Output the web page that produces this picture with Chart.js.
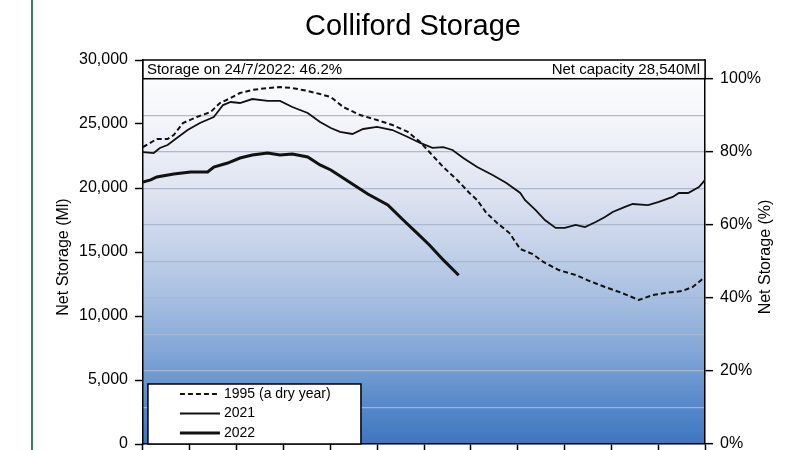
<!DOCTYPE html>
<html>
<head>
<meta charset="utf-8">
<title>Colliford Storage</title>
<script src="https://cdn.jsdelivr.net/npm/chart.js@4.4.1/dist/chart.umd.min.js"></script>
<style>
  html, body { margin: 0; padding: 0; background: #fff; overflow: hidden; }
  #wrap { position: relative; width: 800px; height: 450px; overflow: hidden; }
  #edge { position: absolute; left: 31px; top: 0; width: 2px; height: 450px; background: #3b7a5c; }
</style>
</head>
<body>
<div id="wrap">
  <canvas id="myChart" width="800" height="470"></canvas>
  <div id="edge"></div>
</div>
<script>
// Net capacity of the reservoir (Ml)
const capacity = 28540;

// 1995 (a dry year) : day of year / net storage (Ml)
const days1995 = [0, 9, 16, 20, 26, 35, 44, 50, 57, 63, 71, 81, 89, 97, 107, 115, 122, 130, 141, 152,
  162, 172, 180, 186, 195, 204, 212, 217, 223, 230, 238, 245, 253, 260, 270, 281, 290, 300, 311, 322,
  331, 339, 350, 357, 365];
const ml1995 = [23200, 23830, 23830, 24140, 25080, 25550, 25940, 26640, 27030, 27420, 27660, 27810, 27890, 27810, 27580, 27340, 27110, 26330, 25700, 25310,
  24920, 24380, 23590, 22810, 21640, 20630, 19610, 19060, 18050, 17270, 16480, 15230, 14840, 14220, 13590, 13200, 12730, 12270, 11800, 11250,
  11640, 11800, 11950, 12270, 13050];

// 2021
const days2021 = [0, 7, 11, 16, 22, 29, 37, 46, 52, 57, 63, 71, 81, 89, 97, 107, 115, 122, 128, 136,
  143, 152, 162, 172, 180, 188, 195, 201, 208, 217, 227, 236, 245, 248, 255, 261, 268, 274, 281, 287,
  294, 300, 305, 313, 318, 328, 335, 344, 348, 354, 361, 365];
const ml2021 = [22810, 22730, 23130, 23360, 23910, 24530, 25080, 25550, 26480, 26720, 26640, 26950, 26800, 26800, 26330, 25860, 25160, 24690, 24380, 24220,
  24610, 24770, 24530, 23980, 23520, 23130, 23200, 22970, 22340, 21640, 21020, 20390, 19610, 19060, 18280, 17500, 16880, 16880, 17110, 16950,
  17340, 17730, 18130, 18520, 18750, 18670, 18910, 19300, 19610, 19610, 20080, 20630];

// 2022 (up to 24/7)
const days2022 = [0, 5, 9, 20, 31, 42, 46, 55, 63, 71, 81, 89, 97, 107, 115, 122, 130, 139, 146, 159,
  169, 178, 186, 195, 205];
const ml2022 = [20470, 20630, 20860, 21090, 21250, 21250, 21640, 21950, 22340, 22580, 22730, 22580, 22660, 22420, 21800, 21410, 20780, 20080, 19530, 18670,
  17500, 16480, 15550, 14380, 13185];

const seriesLabels = ["1995 (a dry year)", "2021", "2022"];
const headerLeft = "Storage on 24/7/2022: 46.2%";
const headerRight = "Net capacity 28,540Ml";

const FONT = "'Liberation Sans', Arial, sans-serif";
Chart.defaults.font.family = FONT;
Chart.defaults.color = "#000";

function toPoints(days, vals) {
  return days.map((d, i) => ({ x: d, y: vals[i] }));
}

// background gradient stops (top -> bottom of plot)
const bgStops = [
  [0, "#ffffff"], [0.16, "#f3f5fa"], [0.34, "#dfe4f1"], [0.5, "#c2d0e8"],
  [0.63, "#a4bde0"], [0.76, "#82a6d6"], [0.88, "#5c8ccb"], [1, "#3d76c0"]
];

const decorPlugin = {
  id: "decor",
  beforeDraw(chart) {
    const { ctx, chartArea: a } = chart;
    ctx.save();
    ctx.fillStyle = "#fff";
    ctx.fillRect(0, 0, chart.width, chart.height);
    const g = ctx.createLinearGradient(0, a.top, 0, a.bottom);
    bgStops.forEach(s => g.addColorStop(s[0], s[1]));
    ctx.fillStyle = g;
    ctx.fillRect(a.left, a.top, a.right - a.left, a.bottom - a.top);
    ctx.restore();
  },
  afterDraw(chart) {
    const { ctx, chartArea: a } = chart;
    const y100 = chart.scales.y1.getPixelForValue(100);
    ctx.save();

    // title
    ctx.fillStyle = "#000";
    ctx.font = "29px " + FONT;
    ctx.textAlign = "center";
    ctx.textBaseline = "middle";
    ctx.fillText("Colliford Storage", 413, 27);

    // axis titles
    ctx.font = "16px " + FONT;
    ctx.save();
    ctx.translate(64, 257);
    ctx.rotate(-Math.PI / 2);
    ctx.fillText("Net Storage (Ml)", 0, 0);
    ctx.restore();
    ctx.save();
    ctx.translate(766, 257);
    ctx.rotate(-Math.PI / 2);
    ctx.fillText("Net Storage (%)", 0, 0);
    ctx.restore();

    // header box
    ctx.fillStyle = "#fff";
    ctx.fillRect(a.left, a.top, a.right - a.left, y100 - a.top);
    ctx.strokeStyle = "#000";
    ctx.lineWidth = 1.5;
    ctx.strokeRect(a.left, a.top, a.right - a.left, y100 - a.top);
    ctx.fillStyle = "#000";
    ctx.font = "15px " + FONT;
    ctx.textBaseline = "middle";
    ctx.textAlign = "left";
    ctx.fillText(headerLeft, a.left + 4, (a.top + y100) / 2 + 1);
    ctx.textAlign = "right";
    ctx.fillText(headerRight, a.right - 5, (a.top + y100) / 2 + 1);

    // legend box
    const lx = a.left + 5, ly = 384, lw = 213, lh = a.bottom - ly;
    ctx.fillStyle = "#fff";
    ctx.fillRect(lx, ly, lw, lh);
    ctx.strokeStyle = "#000";
    ctx.lineWidth = 1.5;
    ctx.strokeRect(lx, ly, lw, lh);
    ctx.font = "14px " + FONT;
    ctx.textAlign = "left";
    chart.data.datasets.forEach((ds, i) => {
      const ry = ly + 10 + i * 19.5;
      ctx.beginPath();
      ctx.setLineDash(ds.borderDash || []);
      ctx.lineWidth = ds.borderWidth;
      ctx.strokeStyle = ds.borderColor;
      ctx.moveTo(lx + 32, ry);
      ctx.lineTo(lx + 72, ry);
      ctx.stroke();
      ctx.setLineDash([]);
      ctx.fillStyle = "#000";
      ctx.fillText(ds.label, lx + 76, ry);
    });
    ctx.restore();
  }
};

const monthTicks = [];
for (let m = 0; m <= 12; m++) monthTicks.push(m * 365 / 12);

const ctx = document.getElementById("myChart").getContext("2d");
const myChart = new Chart(ctx, {
  type: "line",
  data: {
    datasets: [
      {
        label: seriesLabels[0],
        data: toPoints(days1995, ml1995),
        borderColor: "#111",
        borderWidth: 2,
        borderDash: [5, 3],
        pointRadius: 0,
        fill: false,
        yAxisID: "y"
      },
      {
        label: seriesLabels[1],
        data: toPoints(days2021, ml2021),
        borderColor: "#111",
        borderWidth: 1.8,
        pointRadius: 0,
        fill: false,
        yAxisID: "y"
      },
      {
        label: seriesLabels[2],
        data: toPoints(days2022, ml2022),
        borderColor: "#111",
        borderWidth: 3,
        pointRadius: 0,
        fill: false,
        yAxisID: "y"
      }
    ]
  },
  options: {
    responsive: false,
    animation: false,
    layout: { padding: { left: 72, right: 32, top: 60, bottom: 20 } },
    plugins: {
      legend: { display: false },
      title: { display: false },
      tooltip: { enabled: false }
    },
    scales: {
      x: {
        type: "linear",
        min: 0,
        max: 365,
        afterBuildTicks: function (scale) {
          scale.ticks = monthTicks.map(v => ({ value: v }));
        },
        ticks: { display: false },
        grid: { drawOnChartArea: false, tickLength: 6, tickColor: "#000", tickWidth: 1.5 },
        border: { color: "#000", width: 1.5 }
      },
      y: {
        position: "left",
        min: 0,
        max: 30000,
        ticks: {
          stepSize: 5000,
          padding: 7,
          font: { size: 16 },
          callback: v => v.toLocaleString("en-US")
        },
        grid: { drawOnChartArea: false, tickLength: 8, tickColor: "#000", tickWidth: 1.5 },
        border: { color: "#000", width: 1.5 }
      },
      y1: {
        position: "right",
        min: 0,
        max: 30000 / capacity * 100,
        ticks: {
          stepSize: 10,
          includeBounds: false,
          padding: 7,
          font: { size: 16 },
          callback: function (v) {
            const r = Math.round(v);
            return (r % 20 === 0 && Math.abs(v - r) < 1e-6) ? r + "%" : "";
          }
        },
        grid: {
          color: "rgba(170,182,204,0.95)",
          lineWidth: 1.3,
          tickLength: 8,
          tickWidth: 1.5,
          tickColor: function (c) {
            const v = c.tick ? c.tick.value : 1;
            return Math.round(v) % 20 === 0 ? "#000" : "rgba(0,0,0,0)";
          }
        },
        border: { color: "#000", width: 1.5 }
      }
    }
  },
  plugins: [decorPlugin]
});
</script>
</body>
</html>
